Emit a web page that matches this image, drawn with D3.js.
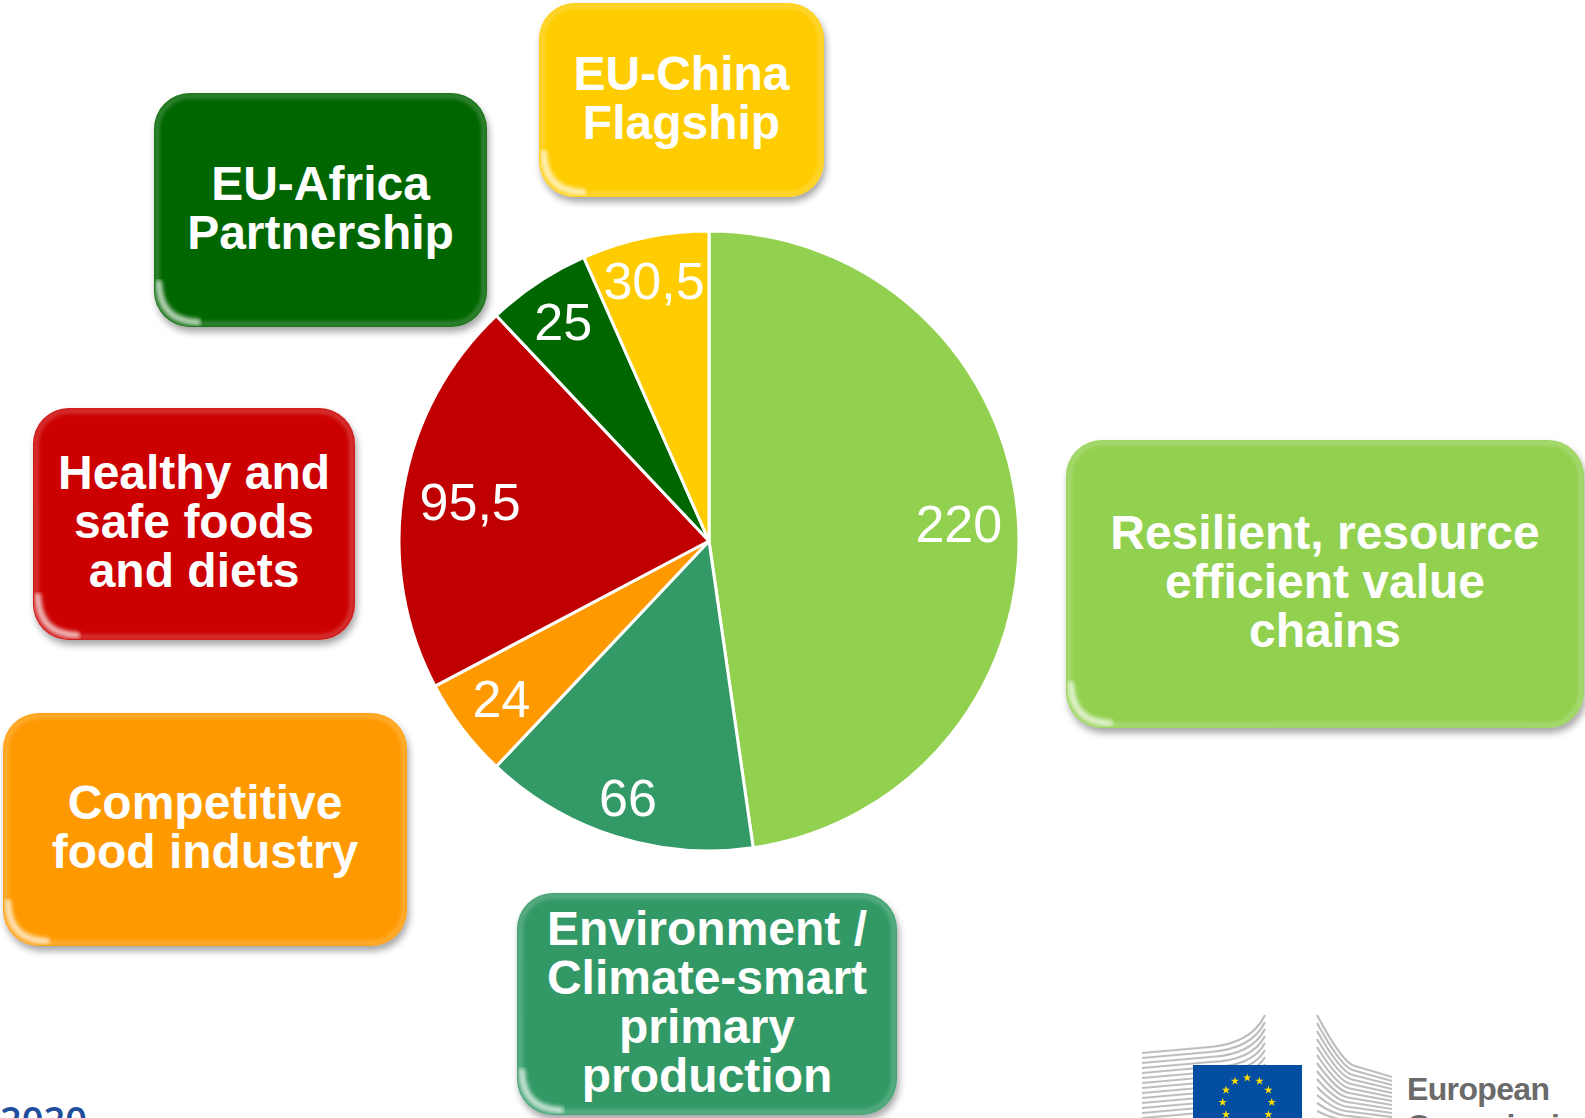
<!DOCTYPE html>
<html>
<head>
<meta charset="utf-8">
<script src="https://cdn.jsdelivr.net/npm/d3@7"></script>
<style>
  html, body { margin: 0; padding: 0; background: #fff; overflow: hidden; }
  svg { display: block; }
</style>
</head>
<body>
<script>
// chart data, clockwise from 12 o'clock
const categories = [
  "Resilient, resource efficient value chains",
  "Environment / Climate-smart primary production",
  "Competitive food industry",
  "Healthy and safe foods and diets",
  "EU-Africa Partnership",
  "EU-China Flagship"
];
const values = [220, 66, 24, 95.5, 25, 30.5];
const sliceColors = ["#92D050", "#339966", "#FF9900", "#C00000", "#006600", "#FFCC00"];
const boxColors = ["#92D050", "#339966", "#FF9900", "#CC0000", "#006600", "#FFCC00"];
const boxLines = [
  ["Resilient, resource", "efficient value", "chains"],
  ["Environment /", "Climate-smart", "primary", "production"],
  ["Competitive", "food industry"],
  ["Healthy and", "safe foods", "and diets"],
  ["EU-Africa", "Partnership"],
  ["EU-China", "Flagship"]
];

const W = 1585, H = 1118;
const cx = 709, cy = 541, R = 310;

// box placement around the pie (same order as categories)
const boxLayout = [
  { x: 1066, y: 440, w: 518, h: 288 },
  { x: 517, y: 893, w: 380, h: 222 },
  { x: 3, y: 713, w: 404, h: 233 },
  { x: 33, y: 408, w: 322, h: 232 },
  { x: 154, y: 93, w: 333, h: 234 },
  { x: 539, y: 3, w: 285, h: 194 }
];

const svg = d3.select("body").append("svg")
  .attr("width", W)
  .attr("height", H)
  .attr("font-family", "'Liberation Sans', Arial, sans-serif");

const defs = svg.append("defs");
defs.append("filter").attr("id", "shadow")
  .attr("x", "-10%").attr("y", "-10%").attr("width", "130%").attr("height", "130%")
  .append("feDropShadow")
  .attr("dx", 2).attr("dy", 5).attr("stdDeviation", 3.5)
  .attr("flood-color", "#000").attr("flood-opacity", 0.35);
defs.append("filter").attr("id", "soft")
  .append("feGaussianBlur").attr("stdDeviation", 2);

// ---------- boxes ----------
const boxes = svg.append("g").selectAll("g.box")
  .data(categories)
  .join("g")
  .attr("class", "box")
  .attr("transform", (d, i) => "translate(" + boxLayout[i].x + "," + boxLayout[i].y + ")");

const rad = 36;
boxes.append("rect")
  .attr("width", (d, i) => boxLayout[i].w)
  .attr("height", (d, i) => boxLayout[i].h)
  .attr("rx", rad).attr("ry", rad)
  .attr("fill", (d, i) => boxColors[i])
  .attr("filter", "url(#shadow)");

boxes.each(function (d, i) {
  const g = d3.select(this);
  const b = boxLayout[i];
  const light = d3.interpolateRgb(boxColors[i], "#ffffff")(0.45);
  const clipId = "clip" + i;
  defs.append("clipPath").attr("id", clipId)
    .append("rect").attr("width", b.w).attr("height", b.h).attr("rx", rad).attr("ry", rad);
  const inner = g.append("g").attr("clip-path", "url(#" + clipId + ")");
  // light rim along the inside edge
  inner.append("rect")
    .attr("x", 3).attr("y", 3)
    .attr("width", b.w - 6).attr("height", b.h - 6)
    .attr("rx", rad - 3).attr("ry", rad - 3)
    .attr("fill", "none")
    .attr("stroke", light)
    .attr("stroke-width", 4)
    .attr("opacity", 0.6)
    .attr("filter", "url(#soft)");
  // top highlight band
  inner.append("line")
    .attr("x1", rad).attr("x2", b.w - rad)
    .attr("y1", 9).attr("y2", 9)
    .attr("stroke", light).attr("stroke-width", 4)
    .attr("opacity", 0.8)
    .attr("filter", "url(#soft)");
  // glossy spot on the lower left corner
  inner.append("path")
    .attr("d", "M5," + (b.h - rad - 8) + " Q6," + (b.h - 6) + " " + (rad + 8) + "," + (b.h - 5))
    .attr("fill", "none")
    .attr("stroke", "#fff")
    .attr("stroke-width", 6)
    .attr("stroke-linecap", "round")
    .attr("opacity", 0.75)
    .attr("filter", "url(#soft)");

  const lh = 49;
  const n = boxLines[i].length;
  const t = g.append("text")
    .attr("text-anchor", "middle")
    .attr("font-weight", "bold")
    .attr("font-size", 48)
    .attr("fill", "#fff");
  boxLines[i].forEach((line, k) => {
    t.append("tspan")
      .attr("x", b.w / 2)
      .attr("y", b.h / 2 + (k - (n - 1) / 2) * lh + 14)
      .text(line);
  });
});

// ---------- pie ----------
const pie = d3.pie().sort(null).value(d => d);
const arcs = pie(values);
const arc = d3.arc().innerRadius(0).outerRadius(R);

const pieG = svg.append("g").attr("transform", "translate(" + cx + "," + cy + ")");
pieG.selectAll("path")
  .data(arcs)
  .join("path")
  .attr("d", arc)
  .attr("fill", (d, i) => sliceColors[i])
  .attr("stroke", "#fff")
  .attr("stroke-width", 3)
  .attr("stroke-linejoin", "round");

const fmt = d3.formatLocale({ decimal: ",", thousands: ".", grouping: [3], currency: ["", ""] }).format("~f");

// labels at "inside end" of each slice
const labels = pieG.selectAll("text.val")
  .data(arcs)
  .join("text")
  .attr("class", "val")
  .attr("text-anchor", "middle")
  .attr("font-size", 52)
  .attr("fill", "#fff")
  .text(d => fmt(d.data));

labels.each(function (d) {
  const w = this.getComputedTextLength();
  const h = 37;
  const a = (d.startAngle + d.endAngle) / 2;
  const ux = Math.sin(a), uy = -Math.cos(a);
  const dist = R - 15 - (Math.abs(ux) * w / 2 + Math.abs(uy) * h / 2);
  d3.select(this)
    .attr("x", ux * dist)
    .attr("y", uy * dist + h / 2);
});

// ---------- footer ----------
svg.append("text")
  .attr("x", 0).attr("y", 1134)
  .attr("font-family", "'Open Sans', sans-serif")
  .attr("font-weight", 600)
  .attr("font-size", 38)
  .attr("fill", "#1F4E9C")
  .text("2020");

// European Commission logo
const logo = svg.append("g");
const grey = "#BEBEBE";
for (let k = 0; k < 14; k++) {
  const y0 = 1053 + 5 * k;
  logo.append("path")
    .attr("d", "M1142," + y0 + " L1210," + (y0 - 6) +
      " Q1252," + (y0 - 10 + k) + " 1265," + (1015 + 7 * k))
    .attr("fill", "none").attr("stroke", grey).attr("stroke-width", 2.2);
}
for (let k = 0; k < 14; k++) {
  const y0 = 1015 + 8 * k;
  const yb = 1062 + 4.5 * k;
  logo.append("path")
    .attr("d", "M1317," + y0 + " Q" + (1343 - k) + "," + (yb + 2) + " " + (1355 - k) + "," + (yb + 4) +
      " L1392," + (1077 + 4 * k))
    .attr("fill", "none").attr("stroke", grey).attr("stroke-width", 2.2);
}
logo.append("rect")
  .attr("x", 1193).attr("y", 1065).attr("width", 109).attr("height", 70)
  .attr("fill", "#034EA2");
const star = d3.symbol(d3.symbolStar).size(22);
d3.range(12).forEach(k => {
  const a = k * Math.PI / 6;
  logo.append("path")
    .attr("d", star())
    .attr("transform", "translate(" + (1247.2 + 24.5 * Math.sin(a)) + "," + (1102.3 - 24.5 * Math.cos(a)) + ")")
    .attr("fill", "#FFDD00");
});
logo.append("text")
  .attr("x", 1407).attr("y", 1100)
  .attr("font-weight", "bold")
  .attr("font-size", 32)
  .attr("fill", "#6B6B6B")
  .attr("textLength", 143)
  .text("European");
logo.append("text")
  .attr("x", 1407).attr("y", 1137)
  .attr("font-weight", "bold")
  .attr("font-size", 32)
  .attr("fill", "#6B6B6B")
  .text("Commission");
</script>
</body>
</html>
